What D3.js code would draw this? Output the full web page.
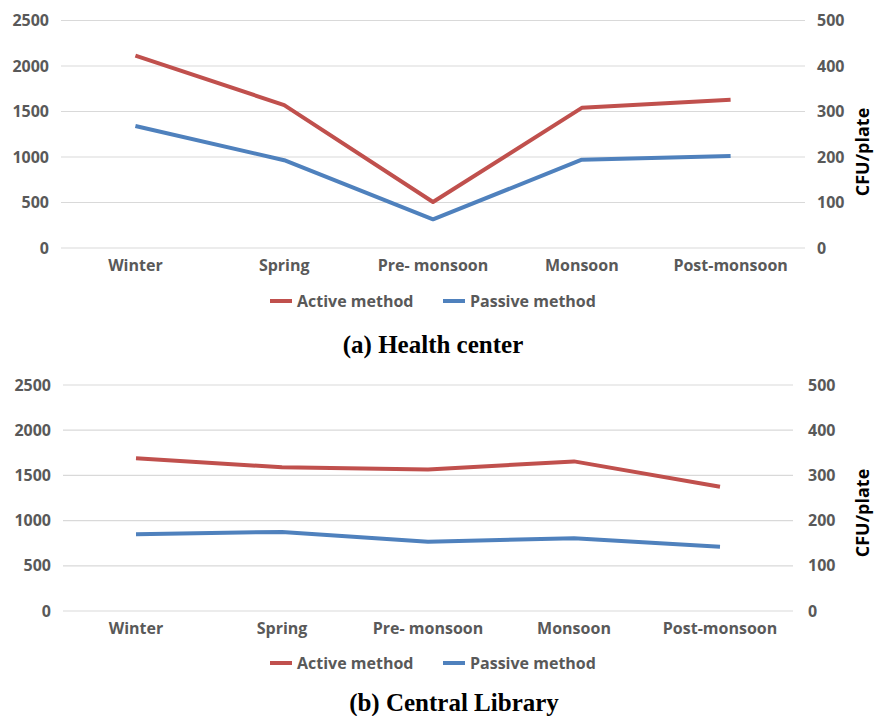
<!DOCTYPE html>
<html>
<head>
<meta charset="utf-8">
<script src="https://cdn.jsdelivr.net/npm/d3@7"></script>
<style>
  body { margin: 0; background: #fff; }
  svg { display: block; }
</style>
</head>
<body>
<svg id="chart" width="876" height="716"></svg>
<script>
// Seasons on the x axis
const seasons = ["Winter", "Spring", "Pre- monsoon", "Monsoon", "Post-monsoon"];
// Left axis ticks (active method) and right axis ticks (CFU/plate, passive method)
const leftTicks = [0, 500, 1000, 1500, 2000, 2500];
const rightTicks = [0, 100, 200, 300, 400, 500];

// (a) Health center
const healthActive = [2115, 1570, 505, 1540, 1630];
const healthPassive = [268, 193, 63, 194, 202];

// (b) Central Library
const libraryActive = [1690, 1590, 1565, 1655, 1375];
const libraryPassive = [170, 175, 153, 161, 142];

const seriesNames = ["Active method", "Passive method"];
const colors = ["#C0504D", "#4F81BD"];

const svg = d3.select("#chart");
const tickFont = "'Open Sans', Lato, sans-serif";
const fmt = d3.format("d");

function panel(cfg) {
  const g = svg.append("g");
  const x = d3.scaleBand().domain(seasons).range([cfg.x0, cfg.x1]);
  const yL = d3.scaleLinear().domain([0, 2500]).range([cfg.yBottom, cfg.yTop]);
  const yR = d3.scaleLinear().domain([0, 500]).range([cfg.yBottom, cfg.yTop]);

  // Gridlines
  g.selectAll("line.grid").data(leftTicks).join("line")
    .attr("x1", cfg.x0).attr("x2", cfg.x1)
    .attr("y1", d => yL(d)).attr("y2", d => yL(d))
    .attr("stroke", "#d9d9d9").attr("stroke-width", 1.2);

  // Left axis
  const left = g.append("g").attr("transform", `translate(${cfg.x0},0)`)
    .call(d3.axisLeft(yL).tickValues(leftTicks).tickFormat(fmt).tickSize(0).tickPadding(12));
  left.select(".domain").remove();

  // Right axis
  const right = g.append("g").attr("transform", `translate(${cfg.x1},0)`)
    .call(d3.axisRight(yR).tickValues(rightTicks).tickFormat(fmt).tickSize(0).tickPadding(cfg.rightPad));
  right.select(".domain").remove();

  // Category axis
  const bottom = g.append("g").attr("transform", `translate(0,${cfg.yBottom})`)
    .call(d3.axisBottom(x).tickSize(0).tickPadding(12));
  bottom.select(".domain").remove();

  g.selectAll(".tick text")
    .attr("font-family", tickFont).attr("font-weight", 700)
    .attr("font-size", 16).attr("fill", "#595959");

  // Right axis title
  g.append("text")
    .attr("transform", `translate(${cfg.titleX},${cfg.titleY}) rotate(-90)`)
    .attr("text-anchor", "middle").attr("dominant-baseline", "central")
    .attr("font-family", tickFont).attr("font-weight", 700).attr("font-size", 18)
    .attr("fill", "#000").text("CFU/plate");

  const cx = d => x(d) + x.bandwidth() / 2;
  const lineL = d3.line().x((d, i) => cx(seasons[i])).y(d => yL(d));
  const lineR = d3.line().x((d, i) => cx(seasons[i])).y(d => yR(d));

  g.append("path").datum(cfg.active).attr("d", lineL)
    .attr("fill", "none").attr("stroke", colors[0]).attr("stroke-width", 4)
    .attr("stroke-linejoin", "round");
  g.append("path").datum(cfg.passive).attr("d", lineR)
    .attr("fill", "none").attr("stroke", colors[1]).attr("stroke-width", 4)
    .attr("stroke-linejoin", "round");

  // Legend
  const legendX = [270, 443];
  seriesNames.forEach((name, i) => {
    const lg = g.append("g").attr("transform", `translate(${legendX[i]},${cfg.legendY})`);
    lg.append("line").attr("x1", 0).attr("x2", 22).attr("y1", 0).attr("y2", 0)
      .attr("stroke", colors[i]).attr("stroke-width", 4);
    lg.append("text").attr("x", 27).attr("y", 0).attr("dominant-baseline", "central")
      .attr("font-family", tickFont).attr("font-weight", 700).attr("font-size", 16)
      .attr("fill", "#595959").text(name);
  });

  // Caption
  g.append("text").attr("x", cfg.captionX).attr("y", cfg.captionY)
    .attr("text-anchor", "middle")
    .attr("font-family", "'Liberation Serif', 'Times New Roman', serif")
    .attr("font-weight", 700).attr("font-size", 25).attr("fill", "#000")
    .text(cfg.caption);
}

panel({
  x0: 61, x1: 805, yTop: 20.5, yBottom: 248,
  active: healthActive, passive: healthPassive,
  rightPad: 12, titleX: 862, titleY: 152, legendY: 301,
  captionX: 433, captionY: 353,
  caption: "(a) Health center"
});

panel({
  x0: 63, x1: 793, yTop: 385, yBottom: 611,
  active: libraryActive, passive: libraryPassive,
  rightPad: 15, titleX: 862, titleY: 513, legendY: 663,
  captionX: 454, captionY: 711,
  caption: "(b) Central Library"
});
</script>
</body>
</html>
